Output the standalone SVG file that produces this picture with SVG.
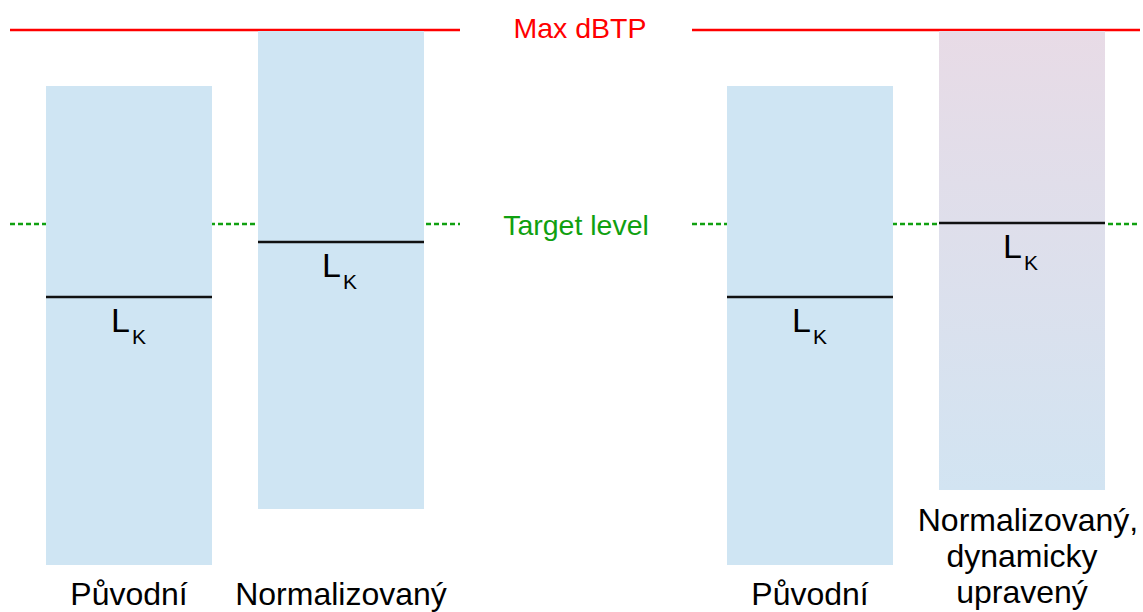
<svg xmlns="http://www.w3.org/2000/svg" width="1143" height="612" viewBox="0 0 1143 612">
<style>
.bar{fill:#cfe5f3}
.red{stroke:#ff0000;stroke-width:2.5;fill:none}
.grn{stroke:#10a010;stroke-width:2.5;stroke-dasharray:5 3;fill:none}
.lk{stroke:#111;stroke-width:2.5}
.t{font-family:"Liberation Sans",Arial,sans-serif;fill:#000}
.L{font-size:34px}
.K{font-size:21px}
.lab{font-size:32px;text-anchor:middle}
</style>
<defs>
<linearGradient id="g" x1="0" y1="0" x2="0" y2="1">
<stop offset="0" stop-color="#e8dbe6"/>
<stop offset="1" stop-color="#d2e4f2"/>
</linearGradient>
</defs>
<g id="connectors">
<line class="red" x1="10" y1="30" x2="460" y2="30"/>
<line class="red" x1="692" y1="30" x2="1140" y2="30"/>
<line class="grn" x1="10" y1="224" x2="460" y2="224"/>
<line class="grn" x1="692" y1="224" x2="1140" y2="224"/>
</g>
<g id="maxdbtp"><text class="t" x="580" y="38" font-size="28.5" text-anchor="middle" style="fill:#ff0000">Max dBTP</text></g>
<g id="target"><text class="t" x="576" y="235" font-size="28.5" text-anchor="middle" style="fill:#10a010">Target level</text></g>
<g id="bar1">
<rect class="bar" x="46" y="86" width="166" height="479"/>
<line class="lk" x1="46" y1="297" x2="212" y2="297"/>
<text class="t L" x="111" y="332">L</text><text class="t K" x="132" y="344">K</text>
</g>
<g id="bar2">
<rect class="bar" x="258" y="31" width="166" height="478"/>
<line class="lk" x1="258" y1="242" x2="424" y2="242"/>
<text class="t L" x="322" y="277">L</text><text class="t K" x="343" y="289">K</text>
</g>
<g id="bar3">
<rect class="bar" x="727" y="86" width="166" height="479"/>
<line class="lk" x1="727" y1="297" x2="893" y2="297"/>
<text class="t L" x="792" y="332">L</text><text class="t K" x="813" y="344">K</text>
</g>
<g id="bar4">
<rect x="939" y="31" width="166" height="459" fill="url(#g)"/>
<line class="lk" x1="939" y1="223" x2="1105" y2="223"/>
<text class="t L" x="1003" y="258">L</text><text class="t K" x="1024" y="270">K</text>
</g>
<g id="label1"><text class="t lab" x="129" y="605">Původní</text></g>
<g id="label2"><text class="t lab" x="341" y="605">Normalizovaný</text></g>
<g id="label3"><text class="t lab" x="810" y="605">Původní</text></g>
<g id="label4"><text class="t lab" x="1028" y="531">Normalizovaný,</text><text class="t lab" x="1022" y="567">dynamicky</text><text class="t lab" x="1022" y="603">upravený</text></g>
</svg>
